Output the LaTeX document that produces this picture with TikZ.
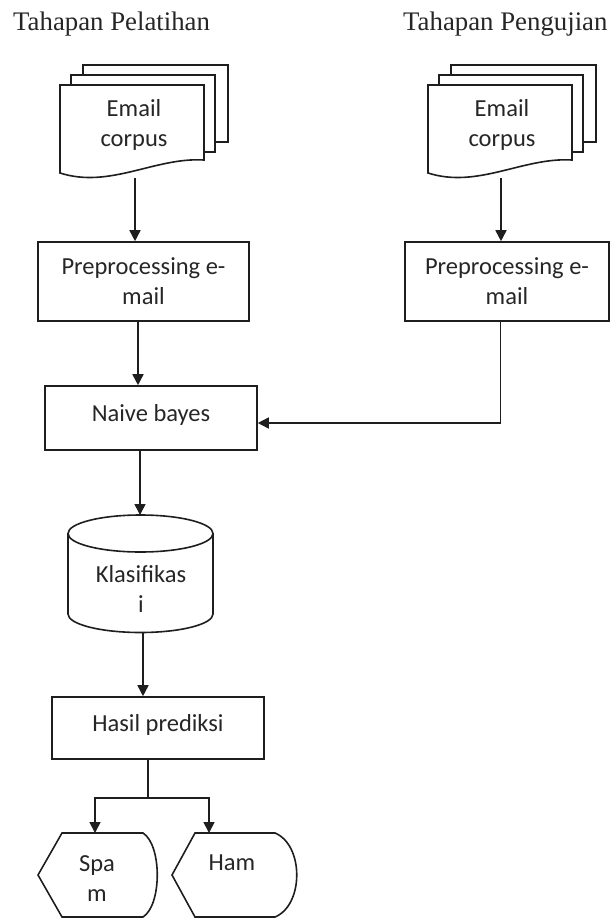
\documentclass[tikz,border=0pt]{standalone}
\usepackage{fontspec}
\setmainfont{Liberation Serif}
\newfontfamily\carlito{Carlito}
\usetikzlibrary{arrows.meta}
\definecolor{ink}{HTML}{1E1E1E}
\definecolor{txtc}{HTML}{262626}
\tikzset{
  ln/.style={draw=ink, line width=1.6pt, line join=miter},
  arr/.style={ln, -{Triangle[length=11pt,width=11pt]}},
  boxtext/.style={font=\carlito\fontsize{24.5}{30}\selectfont, text=txtc, align=center, inner sep=0pt},
  procbox/.style={ln, rectangle, inner sep=0pt, font=\carlito\fontsize{24.5}{30}\selectfont, text=txtc, align=center},
  hold/.style={inner sep=0pt, outer sep=0pt},
  title/.style={font=\fontsize{26.8}{30}\selectfont, text=txtc, anchor=base west, inner sep=0pt},
  docstack/.pic={
    % third (rear) sheet
    \draw[ln] (23,-10) -- (23,-20) -- (168,-20) -- (168,57) -- (155,57);
    % second sheet
    \draw[ln] (11,0) -- (11,-10) -- (155,-10) -- (155,67) -- (144,67);
    % front sheet with wavy bottom
    \draw[ln, fill=white] (0,0) -- (144,0) -- (144,75)
        .. controls (95,72) and (50,104) .. (0,88) -- cycle;
    \node[hold, minimum width=144pt, minimum height=93pt, anchor=north west] (-sheet) at (0,0) {};
    \node[boxtext] (-label) at (74,40) {Email\\corpus};
  }
}
\begin{document}
\begin{tikzpicture}[x=1pt,y=-1pt]
\useasboundingbox (0,0) rectangle (610,918);

% titles
\node[title] (t1) at (13,30) {Tahapan Pelatihan};
\node[title] (t2) at (403,30) {Tahapan Pengujian};

% document stacks
\pic (docL) at (60,85) {docstack};
\pic (docR) at (428,85) {docstack};

% process boxes
\node[procbox, minimum width=211pt, minimum height=79pt] (preL) at (143.5,281.5) {Preprocessing e-\\mail};
\node[procbox, minimum width=204pt, minimum height=79pt] (preR) at (507,281.5) {Preprocessing e-\\mail};
\node[procbox, minimum width=212pt, minimum height=64pt] (nb) at (151,418) {};
\node[boxtext] (nbtext) at (151,415) {Naive bayes};

% cylinder
\draw[ln] (68,533.5) -- (68,614) arc[start angle=180, end angle=360, x radius=72.5pt, y radius=18.5pt] -- (213,533.5);
\draw[ln] (140.5,533.5) ellipse[x radius=72.5pt, y radius=18.5pt];
\node[hold, minimum width=145pt, minimum height=117.5pt] (cyl) at (140.5,573.75) {};
\node[boxtext] (cyltext) at (141,589) {Klasifikas\\i};

% result box
\node[procbox, minimum width=212pt, minimum height=62pt] (hasil) at (158,728) {};
\node[boxtext] (hasiltext) at (158,725) {Hasil prediksi};

% display shapes
\draw[ln] (38,875) -- (62,833) -- (143,833) .. controls (162,845) and (162,905) .. (143,917) -- (62,917) -- cycle;
\draw[ln] (172,875) -- (195,833) -- (275,833) .. controls (304,845) and (304,905) .. (275,917) -- (195,917) -- cycle;
\node[boxtext] (spam) at (97,879) {Spa\\m};
\node[boxtext] (ham) at (232,863) {Ham};
\coordinate (spamtop) at (95,833);
\coordinate (hamtop) at (209,833);
\coordinate (split) at (148,798);

% connectors
\draw[arr] ([xshift=3pt]docL-sheet.south) -- ([xshift=3pt]docL-sheet.south |- preL.north);
\draw[arr] ([xshift=1pt]docR-sheet.south) -- ([xshift=1pt]docR-sheet.south |- preR.north);
\draw[arr] ([xshift=-5.5pt]preL.south) -- ([xshift=-5.5pt]preL.south |- nb.north);
\draw[arr] ([xshift=-6.5pt]preR.south) |- ([yshift=-5pt]nb.east);
\draw[arr] ([xshift=-11pt]nb.south) -- ([xshift=-11pt]nb.south |- cyl.north);
\draw[arr] ([xshift=2.5pt]cyl.south) -- ([xshift=2.5pt]cyl.south |- hasil.north);
\draw[ln] (hasil.south -| split) -- (split);
\draw[arr] (split) -| (spamtop);
\draw[arr] (split) -| (hamtop);
\end{tikzpicture}
\end{document}
